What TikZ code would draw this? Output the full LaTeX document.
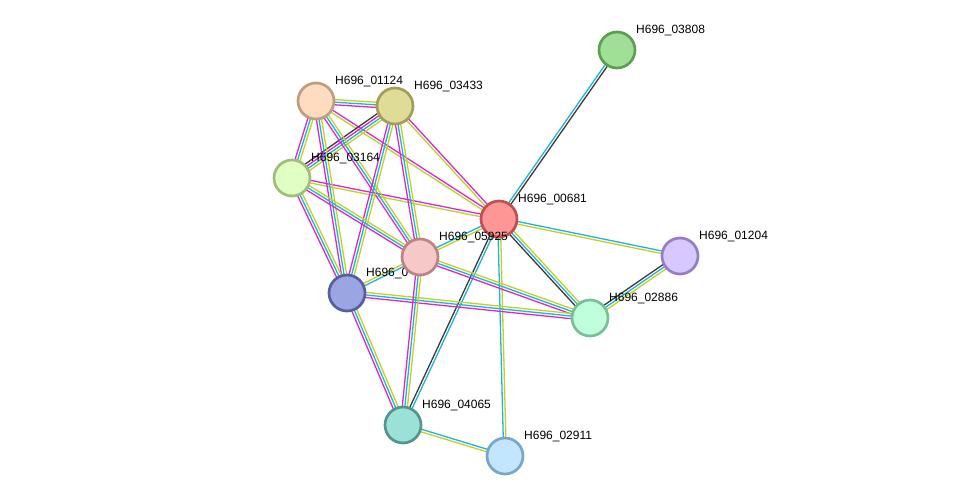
\documentclass[tikz,border=0pt]{standalone}
\usepackage{fontspec}
\setmainfont{Liberation Sans}
\usetikzlibrary{calc,backgrounds}
\definecolor{emag}{RGB}{214,40,214}
\definecolor{ecyan}{RGB}{34,178,218}
\definecolor{eyg}{RGB}{190,210,40}
\definecolor{egray}{RGB}{60,60,60}
\definecolor{f03808}{RGB}{160,224,150}\definecolor{d03808}{RGB}{90,160,80}
\definecolor{f01124}{RGB}{255,220,192}\definecolor{d01124}{RGB}{190,158,128}
\definecolor{f03433}{RGB}{222,220,150}\definecolor{d03433}{RGB}{160,158,90}
\definecolor{f03164}{RGB}{224,255,194}\definecolor{d03164}{RGB}{160,190,122}
\definecolor{fblue}{RGB}{155,165,225}\definecolor{dblue}{RGB}{85,95,160}
\definecolor{f00681}{RGB}{255,150,150}\definecolor{d00681}{RGB}{190,80,80}
\definecolor{f05925}{RGB}{246,200,200}\definecolor{d05925}{RGB}{190,130,130}
\definecolor{f01204}{RGB}{215,200,255}\definecolor{d01204}{RGB}{150,125,200}
\definecolor{f02886}{RGB}{192,255,220}\definecolor{d02886}{RGB}{120,190,150}
\definecolor{f04065}{RGB}{155,225,215}\definecolor{d04065}{RGB}{80,150,140}
\definecolor{f02911}{RGB}{195,230,255}\definecolor{d02911}{RGB}{120,165,200}
\newcommand\lnk[3]{%
  \foreach \col [count=\k] in {#3} {\xdef\lnkn{\k}}%
  \foreach \col [count=\k] in {#3} {%
    \pgfmathsetmacro\off{(\k-(\lnkn+1)/2)*2.6}%
    \draw[\col, line width=1.3pt] ($(#1)!\off pt!90:(#2)$) -- ($(#2)!\off pt!-90:(#1)$);
  }}
\tikzset{
  prot/.style={circle, minimum size=36pt, inner sep=0pt, line width=2.7pt, fill=f#1, draw=d#1},
  plabel/.style={anchor=base west, inner sep=0pt, font=\fontsize{12}{14}\selectfont}
}
\begin{document}
\begin{tikzpicture}[x=1pt,y=-1pt]
\useasboundingbox (0,0) rectangle (976,501);
% nodes (draw order matters for overlap)
\node[prot=03808] (n03808) at (617,50) {};
\node[plabel] (l03808) at (636,33.5) {H696\_03808};
\node[prot=01124] (n01124) at (316,101) {};
\node[plabel] (l01124) at (335,84.5) {H696\_01124};
\node[prot=03433] (n03433) at (395,106) {};
\node[plabel] (l03433) at (414,89.5) {H696\_03433};
\node[prot=03164] (n03164) at (292,178) {};
\node[plabel] (l03164) at (311,161.5) {H696\_03164};
\node[prot=blue] (nblue) at (347,293) {};
\node[plabel] (lblue) at (366,276.5) {H696\_0};
\node[prot=00681] (n00681) at (499,219) {};
\node[plabel] (l00681) at (518,202.5) {H696\_00681};
\node[prot=05925] (n05925) at (420,257) {};
\node[plabel] (l05925) at (439,240.5) {H696\_05925};
\node[prot=01204] (n01204) at (680,256) {};
\node[plabel] (l01204) at (699,239.5) {H696\_01204};
\node[prot=02886] (n02886) at (590,318) {};
\node[plabel] (l02886) at (609,301.5) {H696\_02886};
\node[prot=04065] (n04065) at (403,425) {};
\node[plabel] (l04065) at (422,408.5) {H696\_04065};
\node[prot=02911] (n02911) at (505,456) {};
\node[plabel] (l02911) at (524,439.5) {H696\_02911};
% edges
\begin{scope}[on background layer]
\lnk{n00681}{n03808}{egray,ecyan}
\lnk{n00681}{n01204}{eyg,ecyan}
\lnk{n00681}{n02886}{egray,ecyan,eyg}
\lnk{n01204}{n02886}{egray,ecyan,eyg}
\lnk{n00681}{n05925}{ecyan,eyg}
\lnk{n00681}{n04065}{egray,ecyan}
\lnk{n00681}{n02911}{ecyan,eyg}
\lnk{n04065}{n02911}{eyg,ecyan}
\lnk{n00681}{n03164}{emag,eyg}
\lnk{n00681}{n01124}{emag,eyg}
\lnk{n00681}{n03433}{emag,eyg}
\lnk{n05925}{n02886}{emag,ecyan,eyg}
\lnk{nblue}{n02886}{emag,ecyan,eyg}
\lnk{nblue}{n05925}{ecyan,eyg}
\lnk{n05925}{n04065}{emag,ecyan,eyg}
\lnk{nblue}{n04065}{emag,ecyan,eyg}
\lnk{n01124}{n03433}{emag,ecyan,eyg}
\lnk{n01124}{n03164}{emag,ecyan,eyg}
\lnk{n03433}{n03164}{egray,emag,ecyan,eyg}
\lnk{n01124}{nblue}{emag,ecyan,eyg}
\lnk{n01124}{n05925}{emag,ecyan,eyg}
\lnk{n03433}{nblue}{emag,ecyan,eyg}
\lnk{n03433}{n05925}{emag,ecyan,eyg}
\lnk{n03164}{nblue}{emag,ecyan,eyg}
\lnk{n03164}{n05925}{emag,ecyan,eyg}
\end{scope}
\end{tikzpicture}
\end{document}
